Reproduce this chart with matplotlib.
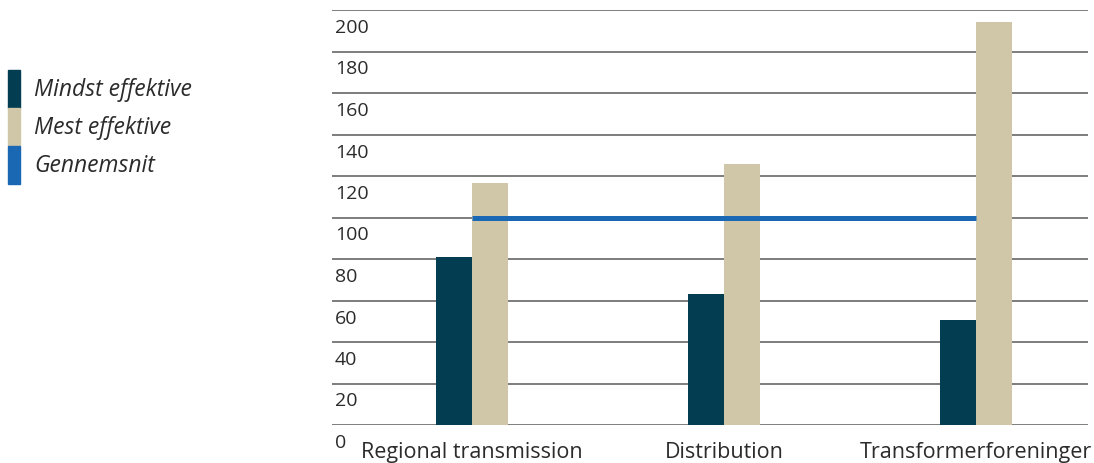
import matplotlib.pyplot as plt
import matplotlib.transforms as mtransforms
from matplotlib.patches import Rectangle

categories = ["Regional transmission", "Distribution", "Transformerforeninger"]
mindst = [81, 63, 50.5]
mest = [116.5, 126, 194]
gennemsnit = 100
yticks = [0, 20, 40, 60, 80, 100, 120, 140, 160, 180, 200]
legend_labels = ["Mindst effektive", "Mest effektive", "Gennemsnit"]

c_dark = "#033d52"
c_beige = "#cfc7a8"
c_blue = "#1a67b3"
txt = "#2b2b2b"

plt.rcParams['font.family'] = ['Open Sans', 'DejaVu Sans']

fig = plt.figure(figsize=(10.94, 4.64), dpi=100)
W, H = 1094, 464
ax = fig.add_axes([332 / W, (464 - 426) / H, (1088 - 332) / W, (426 - 11) / H])

x = range(len(categories))
bw = 0.143
ax.bar([i - bw / 2 for i in x], mindst, width=bw, color=c_dark, zorder=3)
ax.bar([i + bw / 2 for i in x], mest, width=bw, color=c_beige, zorder=3)
ax.plot([0, 2], [gennemsnit, gennemsnit], color=c_blue, lw=3.6, zorder=4,
        solid_capstyle='butt')

for v in yticks:
    ax.axhline(v, color="#5a5a5a", lw=1.1, zorder=1)

ax.set_xlim(-0.556, 2.444)
ax.set_ylim(0, 200)
for s in ax.spines.values():
    s.set_visible(False)
ax.set_xticks([])
ax.set_yticks([])

off = mtransforms.offset_copy(ax.get_yaxis_transform(), fig=fig, x=0, y=-17, units='dots')
for v in yticks:
    ax.text(0.004, v, str(v), transform=off, ha='left', va='center',
            fontsize=14, color=txt, clip_on=False)

offx = mtransforms.offset_copy(ax.get_xaxis_transform(), fig=fig, x=0, y=-27, units='dots')
for i, c in enumerate(categories):
    ax.text(i, 0, c, transform=offx, ha='center', va='center',
            fontsize=15.5, color=txt, clip_on=False)

# legend
cols = [c_dark, c_beige, c_blue]
for k, (lab, col) in enumerate(zip(legend_labels, cols)):
    top = 71 + k * 38
    fig.patches.append(Rectangle((8 / W, 1 - (top + 38) / H), 12 / W, 38 / H,
                                 transform=fig.transFigure, color=col))
    fig.text(34 / W, 1 - (top + 19) / H, lab, ha='left', va='center',
             fontsize=16.5, style='italic', color=txt)

fig.savefig("out.png", dpi=100)
